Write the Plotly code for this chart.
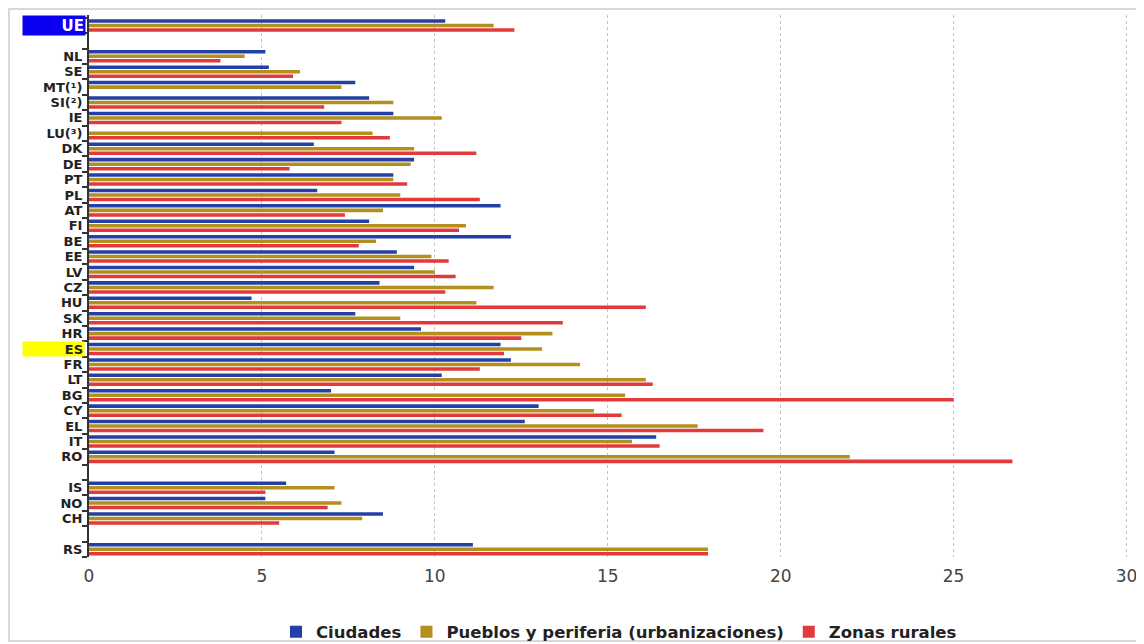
import plotly.graph_objects as go

categories = ["UE", "gap1", "NL", "SE", "MT", "SI", "IE", "LU", "DK", "DE", "PT", "PL", "AT", "FI", "BE",
              "EE", "LV", "CZ", "HU", "SK", "HR", "ES", "FR", "LT", "BG", "CY", "EL", "IT", "RO",
              "gap2", "IS", "NO", "CH", "gap3", "RS"]
tick_labels = ["", "", "NL", "SE", "MT(¹)", "SI(²)", "IE", "LU(³)", "DK", "DE", "PT", "PL", "AT", "FI", "BE",
               "EE", "LV", "CZ", "HU", "SK", "HR", "", "FR", "LT", "BG", "CY", "EL", "IT", "RO",
               "", "IS", "NO", "CH", "", "RS"]

ciudades = [10.3, None, 5.1, 5.2, 7.7, 8.1, 8.8, None, 6.5, 9.4, 8.8, 6.6, 11.9, 8.1, 12.2,
            8.9, 9.4, 8.4, 4.7, 7.7, 9.6, 11.9, 12.2, 10.2, 7.0, 13.0, 12.6, 16.4, 7.1,
            None, 5.7, 5.1, 8.5, None, 11.1]
pueblos = [11.7, None, 4.5, 6.1, 7.3, 8.8, 10.2, 8.2, 9.4, 9.3, 8.8, 9.0, 8.5, 10.9, 8.3,
           9.9, 10.0, 11.7, 11.2, 9.0, 13.4, 13.1, 14.2, 16.1, 15.5, 14.6, 17.6, 15.7, 22.0,
           None, 7.1, 7.3, 7.9, None, 17.9]
rurales = [12.3, None, 3.8, 5.9, None, 6.8, 7.3, 8.7, 11.2, 5.8, 9.2, 11.3, 7.4, 10.7, 7.8,
           10.4, 10.6, 10.3, 16.1, 13.7, 12.5, 12.0, 11.3, 16.3, 25.0, 15.4, 19.5, 16.5, 26.7,
           None, 5.1, 6.9, 5.5, None, 17.9]

series_names = ["Ciudades", "Pueblos y periferia (urbanizaciones)", "Zonas rurales"]
series_colors = ["#2240a6", "#b38f1e", "#e23a3a"]
x_ticks = [0, 5, 10, 15, 20, 25, 30]

fig = go.Figure()
for name, vals, col in zip(series_names, [ciudades, pueblos, rurales], series_colors):
    fig.add_trace(go.Bar(y=categories, x=vals, name=name, orientation="h",
                         marker=dict(color=col, line=dict(width=0))))

# page has an 8px body margin at top/left
OFF = 8
W, H = 1144 - OFF, 644 - OFF
L, T = 89 - OFF, 15 - OFF
R = W - (1130 - OFF)
B = H - (557 - OFF)
pw, ph = W - L - R, H - T - B

def px_x(p):  # page pixel -> paper x
    return (p - OFF - L) / pw

def px_y(p):  # page pixel -> paper y
    return (H - B - (p - OFF)) / ph

def cont_y(p):  # page pixel -> container y
    return 1 - (p - OFF) / H

fig.update_layout(
    width=W, height=H,
    margin=dict(l=L, r=R, t=T, b=B),
    paper_bgcolor="white", plot_bgcolor="white",
    barmode="group", bargap=0.12, bargroupgap=0.22,
    showlegend=True,
    legend=dict(orientation="h", xref="paper", x=px_x(619), xanchor="center",
                yref="container", y=cont_y(632), yanchor="middle",
                font=dict(family="DejaVu Sans", size=16.5, color="#222", weight="bold"),
                bgcolor="rgba(0,0,0,0)", itemwidth=30, traceorder="normal"),
    xaxis=dict(range=[0, 30.1], tickvals=x_ticks, showgrid=True, gridcolor="#c4c4c4",
               griddash="dot", gridwidth=1, zeroline=False, showline=False,
               ticklabelstandoff=7,
               tickfont=dict(family="DejaVu Sans", size=17, color="#444"), ticks=""),
    yaxis=dict(type="category", categoryorder="array", categoryarray=categories,
               autorange="reversed", tickmode="array", tickvals=categories, ticktext=tick_labels,
               tickson="boundaries", ticks="outside", ticklen=5, tickcolor="#333", tickwidth=1.5,
               showline=True, linecolor="#333", linewidth=2, showgrid=False, zeroline=False,
               ticklabelstandoff=2,
               tickfont=dict(family="DejaVu Sans", size=13, color="#222", weight="bold")),
    shapes=[dict(type="rect", xref="paper", yref="paper",
                 x0=px_x(9), x1=px_x(1142), y0=px_y(641), y1=px_y(9),
                 line=dict(color="#d8d8d8", width=2), fillcolor="rgba(0,0,0,0)", layer="below")],
    annotations=[
        dict(text="<b>UE</b>", xref="paper", yref="y", x=px_x(86), y="UE", xanchor="right",
             yanchor="middle", showarrow=False, width=60, height=17, align="right",
             bgcolor="#0b00f0", font=dict(family="DejaVu Sans", size=15, color="white")),
        dict(text="<b>ES</b>", xref="paper", yref="y", x=px_x(85), y="ES", xanchor="right",
             yanchor="middle", showarrow=False, width=59, height=12, align="right",
             bgcolor="#ffff00", font=dict(family="DejaVu Sans", size=13, color="#222")),
    ],
)

fig.write_html("out.html")
